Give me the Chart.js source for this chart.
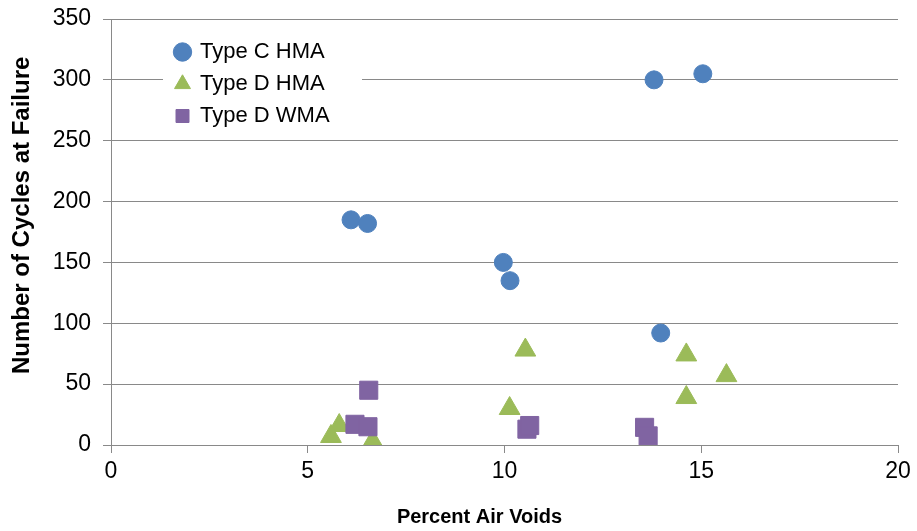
<!DOCTYPE html>
<html>
<head>
<meta charset="utf-8">
<script src="https://cdn.jsdelivr.net/npm/chart.js@4/dist/chart.umd.min.js"></script>
<style>
  html, body { margin: 0; padding: 0; background: #fff; }
</style>
</head>
<body>
<canvas id="canvas-1" width="917" height="531"></canvas>
<script>
var seriesNames = ['Type C HMA', 'Type D HMA', 'Type D WMA'];
var seriesColors = ['#4F81BD', '#9BBB59', '#8064A2'];

var typeCHmaX = [6.10, 6.52, 9.97, 10.14, 13.80, 15.04, 13.97];
var typeCHmaY = [185, 182, 150, 135, 300, 305, 92];

var typeDHmaX = [10.53, 14.62, 14.62, 10.13, 5.80, 5.59, 6.65, 15.64];
var typeDHmaY = [78, 74, 39, 30, 16, 7, 3, 57];

var typeDWmaX = [6.55, 6.20, 6.53, 10.57, 10.64, 13.56, 13.65];
var typeDWmaY = [45, 17, 15, 13, 16, 14.5, 7.5];

var xTicks = [0, 5, 10, 15, 20];
var yTicks = [0, 50, 100, 150, 200, 250, 300, 350];

function toPoints(xs, ys) {
  return xs.map(function (x, i) { return { x: x, y: ys[i] }; });
}

var gridGray = '#898989';
var fontFamily = "'Liberation Sans', Arial, sans-serif";

// legend sits inside the plot, on a white box that hides the gridline
var legendBox = {
  id: 'legendBox',
  afterLayout: function (chart) {
    var lg = chart.legend;
    lg.left = 166; lg.top = 31; lg.right = 362; lg.bottom = 140;
    lg.width = lg.right - lg.left; lg.height = lg.bottom - lg.top;
    lg.adjustHitBoxes();
  },
  beforeDatasetsDraw: function (chart) {
    var ctx = chart.ctx;
    ctx.save();
    ctx.fillStyle = '#fff';
    ctx.fillRect(163, 34, 199, 101);
    ctx.restore();
    chart.legend.draw();
  }
};

var ctx = document.getElementById('canvas-1');
var chart = new Chart(ctx, {
  type: 'scatter',
  data: {
    datasets: [
      {
        label: seriesNames[0],
        data: toPoints(typeCHmaX, typeCHmaY),
        pointStyle: 'circle',
        pointRadius: 9,
        borderWidth: 1,
        backgroundColor: seriesColors[0],
        borderColor: seriesColors[0],
        order: 2
      },
      {
        label: seriesNames[1],
        data: toPoints(typeDHmaX, typeDHmaY),
        pointStyle: 'triangle',
        pointRadius: 12,
        borderWidth: 1,
        backgroundColor: seriesColors[1],
        borderColor: seriesColors[1],
        order: 1
      },
      {
        label: seriesNames[2],
        data: toPoints(typeDWmaX, typeDWmaY),
        pointStyle: 'rect',
        pointRadius: 12.8,
        borderWidth: 1,
        backgroundColor: seriesColors[2],
        borderColor: seriesColors[2],
        order: 0
      }
    ]
  },
  options: {
    responsive: false,
    animation: false,
    layout: { padding: { top: 19, right: 19, left: 0, bottom: 0 } },
    plugins: {
      tooltip: { enabled: false },
      legend: {
        position: 'chartArea',
        align: 'start',
        labels: {
          usePointStyle: true,
          boxWidth: 13,
          boxHeight: 13,
          padding: 10,
          color: '#000',
          font: { family: fontFamily, size: 22 },
          sort: function (a, b) { return a.datasetIndex - b.datasetIndex; }
        }
      }
    },
    scales: {
      x: {
        type: 'linear',
        min: xTicks[0],
        max: xTicks[xTicks.length - 1],
        afterFit: function (s) { s.height = 86; },
        ticks: {
          stepSize: 5,
          padding: 5,
          color: '#000',
          font: { family: fontFamily, size: 23 }
        },
        grid: { drawOnChartArea: false, drawTicks: true, tickLength: 8, color: gridGray },
        border: { color: gridGray, width: 1 },
        title: {
          display: true,
          // trailing spaces nudge the centred title left, as in the original
          text: 'Percent Air Voids         ',
          color: '#000',
          padding: { top: 0, bottom: 2 },
          font: { family: fontFamily, size: 20, weight: 'bold' }
        }
      },
      y: {
        min: yTicks[0],
        max: yTicks[yTicks.length - 1],
        afterFit: function (s) {
          s.width = 111;
          s.paddingTop = 6;
          s.paddingBottom = 6;
        },
        ticks: {
          stepSize: 50,
          padding: 12,
          color: '#000',
          font: { family: fontFamily, size: 23 }
        },
        grid: { color: gridGray, tickLength: 8 },
        border: { color: gridGray, width: 1 },
        title: {
          display: true,
          // leading spaces push the rotated title up a little
          text: '     Number of Cycles at Failure',
          color: '#000',
          padding: { top: 8, bottom: 0 },
          font: { family: fontFamily, size: 24, weight: 'bold' }
        }
      }
    }
  },
  plugins: [legendBox]
});
</script>
</body>
</html>
